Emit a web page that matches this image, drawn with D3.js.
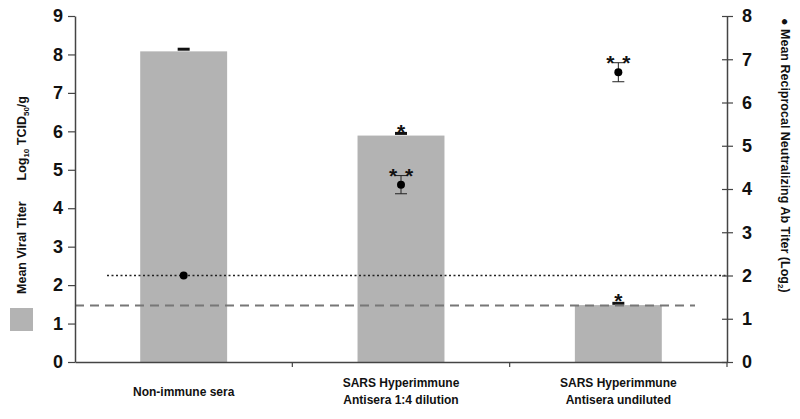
<!DOCTYPE html>
<html><head><meta charset="utf-8">
<script src="https://cdn.jsdelivr.net/npm/d3@7"></script>
<style>body{margin:0;background:#fff}svg{display:block;font-family:"Liberation Sans",Arial,sans-serif;font-weight:bold}</style>
</head><body><svg id="c" width="800" height="419"></svg>
<script>
const categories = [["Non-immune sera"],["SARS Hyperimmune","Antisera 1:4 dilution"],["SARS Hyperimmune","Antisera undiluted"]];
const viralTiter = [8.08, 5.89, 1.48];
const viralErr = [0.03, 0.03, 0.02];
const viralSig = ["", "*", "*"];
const abTiter = [2.0, 4.1, 6.7];
const abErr = [0, 0.21, 0.22];
const abSig = ["", "* *", "* *"];
const detectionLimitViral = 1.47;
const detectionLimitAb = 2.0;
const leftTicks = [0,1,2,3,4,5,6,7,8,9];
const rightTicks = [0,1,2,3,4,5,6,7,8];

const svg = d3.select("#c");
const L = 75, R = 727, T = 16, B = 362;
const x = d3.scaleBand().domain(d3.range(categories.length)).range([L, R]).paddingInner(0.6).paddingOuter(0.3);
const xs = d3.scaleBand().domain(d3.range(categories.length)).range([L, R]);
const yL = d3.scaleLinear().domain([0, 9]).range([B, T]);
const yR = d3.scaleLinear().domain([0, 8]).range([B, T]);
const axisCol = "#444";
const cx = i => xs(i)+xs.bandwidth()/2;

// bars
svg.selectAll("rect.bar").data(viralTiter).join("rect")
  .attr("x", (d,i)=>x(i)).attr("width", x.bandwidth())
  .attr("y", d=>yL(d)).attr("height", d=>B - yL(d)).attr("fill", "#b3b3b3");

// bar error caps
svg.selectAll("line.be").data(viralTiter).join("line")
  .attr("x1",(d,i)=>cx(i)-6).attr("x2",(d,i)=>cx(i)+6)
  .attr("y1",(d,i)=>yL(d+viralErr[i])-1).attr("y2",(d,i)=>yL(d+viralErr[i])-1)
  .attr("stroke","#111").attr("stroke-width",3);
svg.selectAll("text.bs").data(viralSig).join("text")
  .attr("x",(d,i)=>cx(i)).attr("y",(d,i)=>yL(viralTiter[i])+3)
  .attr("text-anchor","middle").attr("font-size",21).attr("fill","#111").text(d=>d);

// detection lines
svg.append("line").attr("x1", L).attr("x2", 695).attr("y1", yL(detectionLimitViral)).attr("y2", yL(detectionLimitViral))
  .attr("stroke","#777").attr("stroke-width",2).attr("stroke-dasharray","9,6");
svg.append("line").attr("x1", 107).attr("x2", R).attr("y1", yR(detectionLimitAb)).attr("y2", yR(detectionLimitAb))
  .attr("stroke","#222").attr("stroke-width",1.5).attr("stroke-dasharray","2,2.5");

// points with error bars
abTiter.forEach((v,i)=>{
  if (abErr[i] > 0) {
    const g = svg.append("g").attr("stroke","#222").attr("stroke-width",1);
    g.append("line").attr("x1",cx(i)).attr("x2",cx(i)).attr("y1",yR(v+abErr[i])).attr("y2",yR(v-abErr[i]));
    [v+abErr[i], v-abErr[i]].forEach(e=>g.append("line").attr("x1",cx(i)-6).attr("x2",cx(i)+6).attr("y1",yR(e)).attr("y2",yR(e)));
  }
  svg.append("circle").attr("cx",cx(i)).attr("cy",yR(v)).attr("r",4).attr("fill","#000");
  if (abSig[i]) {
    abSig[i].split(" ").forEach((s,k)=>{
      svg.append("text").attr("x",cx(i) + (k===0?-8:8)).attr("y",yR(v+abErr[i])+7)
        .attr("text-anchor","middle").attr("font-size",21).attr("fill","#111").text(s);
    });
  }
});

// axes
const gl = svg.append("g").attr("transform",`translate(${L},0)`)
  .call(d3.axisLeft(yL).tickValues(leftTicks).tickSize(7).tickSizeOuter(0).tickPadding(5));
const gr = svg.append("g").attr("transform",`translate(${R},0)`)
  .call(d3.axisRight(yR).tickValues(rightTicks).tickSize(6).tickSizeOuter(0).tickPadding(9));
gr.selectAll(".tick line").attr("x1",-5);
const gx = svg.append("g").attr("transform",`translate(0,${B})`)
  .call(d3.axisBottom(xs).tickValues([]).tickSizeOuter(0));
[gl, gr, gx].forEach(g=>{
  g.select(".domain").attr("stroke",axisCol).attr("stroke-width",1.5);
  g.selectAll(".tick line").attr("stroke",axisCol).attr("stroke-width",1.2);
  g.selectAll(".tick text").attr("font-size",18).attr("fill","#111").attr("font-family","Liberation Sans, Arial, sans-serif").attr("font-weight","bold");
});
// category separator ticks
svg.selectAll("line.xt").data([1,2,3]).join("line")
  .attr("x1",d=>L + d*xs.step()).attr("x2",d=>L + d*xs.step()).attr("y1",B).attr("y2",B+5)
  .attr("stroke",axisCol).attr("stroke-width",1.2);

// category labels
categories.forEach((lines,i)=>{
  const t = svg.append("text").attr("text-anchor","middle").attr("font-size",12).attr("fill","#111");
  const y0 = lines.length === 1 ? 396 : 387;
  lines.forEach((s,j)=>t.append("tspan").attr("x",cx(i)).attr("y",y0 + j*17).text(s));
});

// left title
const lt = svg.append("text").attr("transform","translate(26,195) rotate(-90)").attr("text-anchor","middle")
  .attr("font-size",12.5).attr("fill","#111").attr("xml:space","preserve");
lt.append("tspan").text("Mean Viral Titer      Log");
lt.append("tspan").attr("font-size",8).attr("dy",3).text("10");
lt.append("tspan").attr("dy",-3).text(" TCID");
lt.append("tspan").attr("font-size",8).attr("dy",3).text("50");
lt.append("tspan").attr("dy",-3).text("/g");
svg.append("rect").attr("x",10).attr("y",308).attr("width",23).attr("height",23).attr("fill","#b3b3b3");

// right title
const rt = svg.append("text").attr("transform","translate(781,18) rotate(90)").attr("text-anchor","start")
  .attr("font-size",12.5).attr("fill","#111");
rt.append("tspan").text("\u25CF Mean Reciprocal Neutralizing Ab Titer (Log");
rt.append("tspan").attr("font-size",8).attr("dy",3).text("2");
rt.append("tspan").attr("dy",-3).text(")");
</script></body></html>
